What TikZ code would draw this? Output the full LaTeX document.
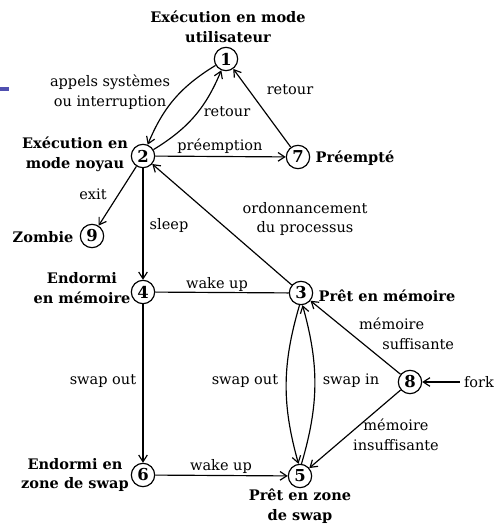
\documentclass[tikz,border=0pt]{standalone}
\usepackage{fontspec}
\setmainfont{DejaVu Serif}
\usetikzlibrary{arrows.meta}
\definecolor{puce}{HTML}{5050B0}
\newcommand{\txt}{\fontsize{12.4}{17}\selectfont}

\begin{document}
\begin{tikzpicture}[x=0.03cm,y=-0.03cm,
  etat/.style={draw,circle,line width=1pt,minimum size=0.7cm,inner sep=0pt,font=\fontsize{14}{14}\selectfont\bfseries},
  titre/.style={font=\txt\bfseries,align=center},
  lbl/.style={font=\txt,align=center},
  fl/.style={line width=1pt,-{Straight Barb[length=2mm,width=2.6mm]}}]
  \useasboundingbox (0,0) rectangle (497,527);
  \fill[puce] (0,87) rectangle (9,91);
  % etats
  \node[etat] (e1) at (226,59) {1};
  \node[etat] (e2) at (143,156) {2};
  \node[etat] (e7) at (298,157) {7};
  \node[etat] (e9) at (92,236) {9};
  \node[etat] (e4) at (143,292) {4};
  \node[etat] (e3) at (301,293) {3};
  \node[etat] (e8) at (410,382) {8};
  \node[etat] (e6) at (143,475) {6};
  \node[etat] (e5) at (300,476) {5};
  \node[lbl] (fork) at (479,382) {fork};
  % noms des etats
  \node[titre] (t1) at (228,27) {Exécution en mode\\utilisateur};
  \node[titre] (t2) at (75,154) {Exécution en\\mode noyau};
  \node[titre] (t7) at (355,158) {Préempté};
  \node[titre] (t9) at (43,237) {Zombie};
  \node[titre] (t4) at (82,288) {Endormi\\en mémoire};
  \node[titre] (t3) at (387,296) {Prêt en mémoire};
  \node[titre] (t6) at (75,475) {Endormi en\\zone de swap};
  \node[titre] (t5) at (300,506) {Prêt en zone\\de swap};
  % transitions
  \draw[fl] (e1) to[bend right=18] (e2);
  \draw[fl] (e2) to[bend right=18] (e1);
  \draw[fl] (e7) -- (e1);
  \draw[fl] (e2) -- (e7);
  \draw[fl] (e2) -- (e9);
  \draw[fl] (e2) -- (e4);
  \draw[fl] (e3) -- (e2);
  \draw[line width=1pt] (e4) -- (e3);
  \draw[fl] (e4) -- (e6);
  \draw[fl] (e6) -- (e5);
  \draw[fl] (e3.-97) to[bend right=16] (e5.97);
  \draw[fl] (e5.83) to[bend right=16] (e3.-83);
  \draw[fl] (e8) -- (e3);
  \draw[fl] (e8) -- (e5);
  \draw[fl] (fork) -- (e8);
  % etiquettes
  \node[lbl] (l12) at (110,92) {appels systèmes\\ou interruption};
  \node[lbl] (l21) at (227,112) {retour};
  \node[lbl] (l71) at (290,90) {retour};
  \node[lbl] (l27) at (220,146) {préemption};
  \node[lbl] (l29) at (93,194) {exit};
  \node[lbl] (l24) at (169,225) {sleep};
  \node[lbl] (l32) at (305,219) {ordonnancement\\du processus};
  \node[lbl] (l43) at (217,284) {wake up};
  \node[lbl] (l46) at (103,381) {swap out};
  \node[lbl] (l35) at (245,381) {swap out};
  \node[lbl] (l53) at (351,381) {swap in};
  \node[lbl,anchor=west,align=left] (l83) at (355,334) {mémoire\\\hspace{1.6em}suffisante};
  \node[lbl] (l85) at (396,435) {mémoire\\insuffisante};
  \node[lbl] (l65) at (221,466) {wake up};
\end{tikzpicture}
\end{document}
